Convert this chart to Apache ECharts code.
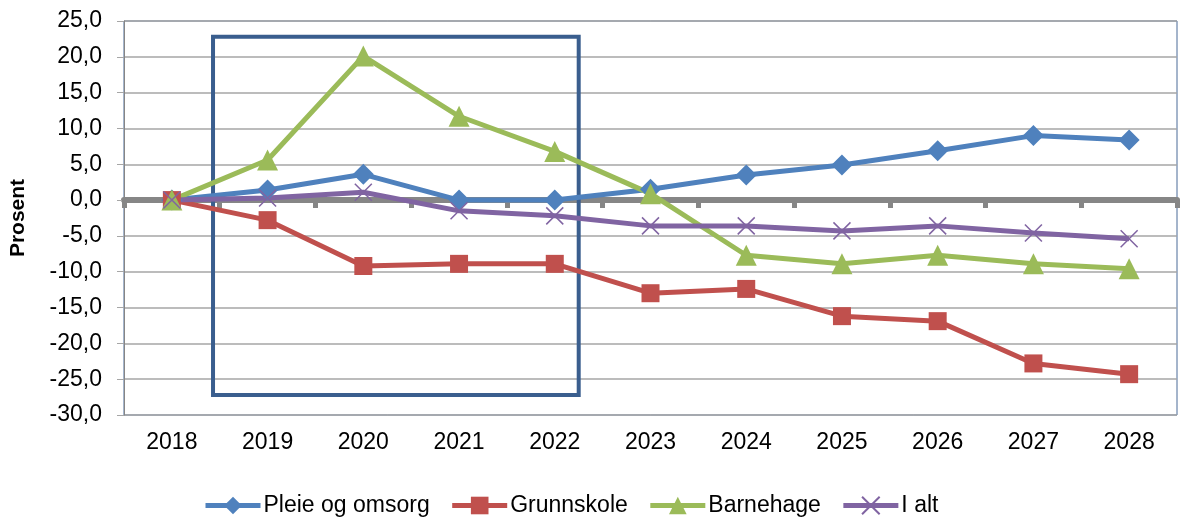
<!DOCTYPE html>
<html><head><meta charset="utf-8">
<script src="https://cdn.jsdelivr.net/npm/echarts@6/dist/echarts.min.js"></script>
<style>html,body{margin:0;padding:0;background:#fff}#c{width:1186px;height:520px}</style>
</head><body><div id="c"></div>
<script>
const years = ['2018','2019','2020','2021','2022','2023','2024','2025','2026','2027','2028'];
const pleie = [0, 1.4, 3.6, 0.0, 0.0, 1.5, 3.5, 4.9, 6.9, 9.0, 8.4];
const grunnskole = [0, -2.8, -9.2, -8.9, -8.9, -13.0, -12.4, -16.2, -16.9, -22.8, -24.3];
const barnehage = [0, 5.6, 20.1, 11.7, 6.8, 0.9, -7.7, -8.9, -7.7, -8.9, -9.6];
const ialt = [0, 0.3, 1.1, -1.5, -2.2, -3.6, -3.6, -4.3, -3.6, -4.6, -5.4];
const seriesNames = ['Pleie og omsorg','Grunnskole','Barnehage','I alt'];
const yMin = -30, yMax = 25, yStep = 5;
// highlight box: [x index from, y from] -> [x index to, y to]
const boxFrom = [0.43, -27.2];
const boxTo = [4.25, 22.8];

const font = 'Liberation Sans';
const chart = echarts.init(document.getElementById('c'), null, {renderer:'canvas'});
function mk(name, data, color, symbol, size, extra) {
  return Object.assign({
    name, type:'line', data, xAxisIndex:0, yAxisIndex:0,
    symbol, symbolSize:size, showSymbol:true,
    lineStyle:{color, width:5},
    itemStyle:{color},
    z:3
  }, extra||{});
}
chart.setOption({
  animation:false,
  textStyle:{fontFamily:font},
  grid:{left:123, right:9, top:21, bottom:105, show:true, borderColor:'#4A6A98', borderWidth:1, backgroundColor:'transparent'},
  legend:{
    data:seriesNames, left:198, top:489, itemWidth:55, itemHeight:22, itemGap:20,
    lineStyle:{width:5},
    textStyle:{fontFamily:font, fontSize:23, color:'#000', padding:[0,0,0,-2]}
  },
  xAxis:[
    {type:'category', data:years, position:'bottom', boundaryGap:true,
     axisLine:{show:false, onZero:false}, axisTick:{show:false},
     axisLabel:{color:'#000', fontSize:23, fontFamily:font, margin:16},
     splitLine:{show:false}},
    {type:'category', data:years, position:'top', boundaryGap:true,
     axisLine:{show:true, onZero:true, lineStyle:{color:'#868686', width:6}},
     axisTick:{show:true, inside:true, length:8, lineStyle:{color:'#868686', width:5}},
     axisLabel:{show:false}, splitLine:{show:false}},
    {type:'value', min:-0.5, max:10.5, show:false, splitLine:{show:false}}
  ],
  yAxis:{
    type:'value', min:yMin, max:yMax, interval:yStep,
    name:'Prosent', nameLocation:'middle', nameGap:95, nameRotate:90,
    nameTextStyle:{fontFamily:font, fontSize:21, fontWeight:'bold', color:'#000'},
    axisLine:{show:true, onZero:false, lineStyle:{color:'#868686', width:1}},
    axisTick:{show:true, length:7, lineStyle:{color:'#A6A6A6'}},
    axisLabel:{color:'#000', fontSize:23, fontFamily:font, margin:22,
      formatter:v=>v.toFixed(1).replace('.', ',')},
    splitLine:{show:true, lineStyle:{color:'#A6A6A6', width:1.5}}
  },
  series:[
    mk(seriesNames[0], pleie, '#4F81BD', 'diamond', 21),
    mk(seriesNames[1], grunnskole, '#C0504D', 'rect', 18),
    mk(seriesNames[2], barnehage, '#9BBB59', 'triangle', 21),
    mk(seriesNames[3], ialt, '#8064A2', 'path://M0,0L10,10M10,0L0,10', 17,
      {itemStyle:{color:'#8064A2', borderColor:'#8064A2', borderWidth:1.5}}),
    {name:'box', type:'line', xAxisIndex:2, yAxisIndex:0, data:[], z:4,
     markArea:{silent:true,
       itemStyle:{color:'rgba(0,0,0,0)', borderColor:'#3A5E8E', borderWidth:4},
       data:[[{coord:boxFrom},{coord:boxTo}]]}}
  ]
});
</script></body></html>
